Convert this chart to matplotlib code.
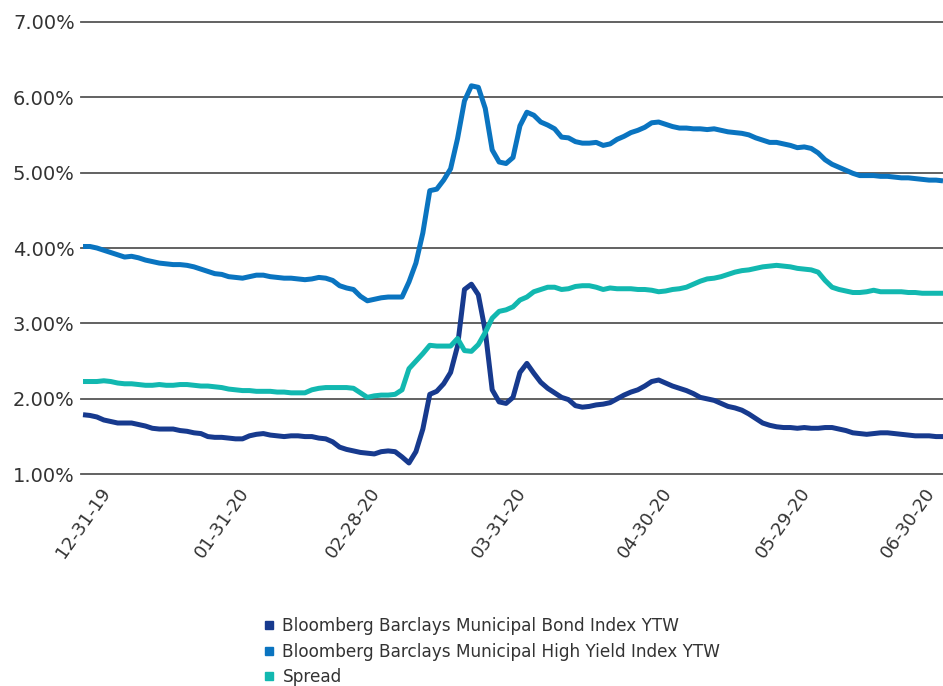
import matplotlib
matplotlib.use("Agg")
import matplotlib.pyplot as plt
from matplotlib.lines import Line2D
import numpy as np

# daily yield-to-worst readings (%), one value per trading day
muni_ytw = [
    1.79, 1.78, 1.76, 1.72, 1.70, 1.68, 1.68, 1.68, 1.66, 1.64,
    1.61, 1.60, 1.60, 1.60, 1.58, 1.57, 1.55, 1.54, 1.50, 1.49,
    1.49, 1.48, 1.47, 1.47, 1.51, 1.53, 1.54, 1.52, 1.51, 1.50,
    1.51, 1.51, 1.50, 1.50, 1.48, 1.47, 1.43, 1.36, 1.33, 1.31,
    1.29, 1.28, 1.27, 1.30, 1.31, 1.30, 1.23, 1.15, 1.30, 1.60,
    2.06, 2.10, 2.20, 2.35, 2.70, 3.45, 3.52, 3.38, 2.90, 2.12,
    1.96, 1.94, 2.02, 2.35, 2.47, 2.34, 2.22, 2.14, 2.08, 2.02,
    1.99, 1.91, 1.89, 1.90, 1.92, 1.93, 1.95, 2.00, 2.05, 2.09,
    2.12, 2.17, 2.23, 2.25, 2.21, 2.17, 2.14, 2.11, 2.07, 2.02,
    2.00, 1.98, 1.94, 1.90, 1.88, 1.85, 1.80, 1.74, 1.68, 1.65,
    1.63, 1.62, 1.62, 1.61, 1.62, 1.61, 1.61, 1.62, 1.62, 1.60,
    1.58, 1.55, 1.54, 1.53, 1.54, 1.55, 1.55, 1.54, 1.53, 1.52,
    1.51, 1.51, 1.51, 1.50, 1.50,
]
hy_ytw = [
    4.02, 4.02, 4.00, 3.97, 3.94, 3.91, 3.88, 3.89, 3.87, 3.84,
    3.82, 3.80, 3.79, 3.78, 3.78, 3.77, 3.75, 3.72, 3.69, 3.66,
    3.65, 3.62, 3.61, 3.60, 3.62, 3.64, 3.64, 3.62, 3.61, 3.60,
    3.60, 3.59, 3.58, 3.59, 3.61, 3.60, 3.57, 3.50, 3.47, 3.45,
    3.36, 3.30, 3.32, 3.34, 3.35, 3.35, 3.35, 3.55, 3.80, 4.20,
    4.76, 4.78, 4.90, 5.05, 5.45, 5.95, 6.15, 6.13, 5.85, 5.30,
    5.14, 5.12, 5.20, 5.62, 5.80, 5.76, 5.67, 5.63, 5.58, 5.47,
    5.46, 5.41, 5.39, 5.39, 5.40, 5.36, 5.38, 5.44, 5.48, 5.53,
    5.56, 5.60, 5.66, 5.67, 5.64, 5.61, 5.59, 5.59, 5.58, 5.58,
    5.57, 5.58, 5.56, 5.54, 5.53, 5.52, 5.50, 5.46, 5.43, 5.40,
    5.40, 5.38, 5.36, 5.33, 5.34, 5.32, 5.26, 5.17, 5.11, 5.07,
    5.03, 4.99, 4.96, 4.96, 4.96, 4.95, 4.95, 4.94, 4.93, 4.93,
    4.92, 4.91, 4.90, 4.90, 4.89,
]
spread = [
    2.23, 2.23, 2.23, 2.24, 2.23, 2.21, 2.20, 2.20, 2.19, 2.18,
    2.18, 2.19, 2.18, 2.18, 2.19, 2.19, 2.18, 2.17, 2.17, 2.16,
    2.15, 2.13, 2.12, 2.11, 2.11, 2.10, 2.10, 2.10, 2.09, 2.09,
    2.08, 2.08, 2.08, 2.12, 2.14, 2.15, 2.15, 2.15, 2.15, 2.14,
    2.08, 2.02, 2.04, 2.05, 2.05, 2.06, 2.12, 2.40, 2.50, 2.60,
    2.71, 2.70, 2.70, 2.70, 2.80, 2.64, 2.63, 2.72, 2.88, 3.07,
    3.16, 3.18, 3.22, 3.31, 3.35, 3.42, 3.45, 3.48, 3.48, 3.45,
    3.46, 3.49, 3.50, 3.50, 3.48, 3.45, 3.47, 3.46, 3.46, 3.46,
    3.45, 3.45, 3.44, 3.42, 3.43, 3.45, 3.46, 3.48, 3.52, 3.56,
    3.59, 3.60, 3.62, 3.65, 3.68, 3.70, 3.71, 3.73, 3.75, 3.76,
    3.77, 3.76, 3.75, 3.73, 3.72, 3.71, 3.68, 3.57, 3.48, 3.45,
    3.43, 3.41, 3.41, 3.42, 3.44, 3.42, 3.42, 3.42, 3.42, 3.41,
    3.41, 3.40, 3.40, 3.40, 3.40,
]

tick_days = [0, 20, 39, 60, 81, 101, 119]
tick_labels = ["12-31-19", "01-31-20", "02-28-20", "03-31-20",
               "04-30-20", "05-29-20", "06-30-20"]
y_levels = [1, 2, 3, 4, 5, 6, 7]

series_names = [
    "Bloomberg Barclays Municipal Bond Index YTW",
    "Bloomberg Barclays Municipal High Yield Index YTW",
    "Spread",
]
colors = ["#173a8e", "#0a74c0", "#12b8b0"]
text_color = "#333333"

W, H = 943, 686
fig = plt.figure(figsize=(W / 100, H / 100), dpi=100)
ax = fig.add_axes([81 / W, (H - 474.3) / H, (W - 81) / W, (474.3 - 21.7) / H])

days = np.arange(len(muni_ytw))
for vals, c in zip([muni_ytw, hy_ytw, spread], colors):
    ax.plot(days, vals, color=c, lw=3.6, solid_joinstyle="round",
            solid_capstyle="butt", zorder=3)

for lvl in y_levels:
    ax.axhline(lvl, color="#555555", lw=1.3, zorder=1, clip_on=False)

ax.set_xlim(-0.29, len(muni_ytw) - 1)
ax.set_ylim(1, 7)
for s in ax.spines.values():
    s.set_visible(False)

ax.set_yticks(y_levels)
ax.set_yticklabels([f"{v:.2f}%" for v in y_levels])
ax.tick_params(axis="y", length=0, pad=4.5, labelsize=14, labelcolor=text_color)

ax.set_xticks(tick_days)
ax.set_xticklabels(tick_labels, rotation=55, ha="center", va="top")
ax.tick_params(axis="x", length=0, pad=7, labelsize=13, labelcolor=text_color)

handles = [Line2D([], [], marker="s", ls="none", markersize=6,
                  markerfacecolor=c, markeredgecolor=c) for c in colors]
fig.legend(handles, series_names, loc="upper left",
           bbox_to_anchor=(263 / W, 1 - 617 / H), frameon=False,
           fontsize=12.2, labelcolor=text_color, handlelength=0.7,
           handletextpad=0.45, labelspacing=0.45, borderpad=0, borderaxespad=0)

fig.savefig("out.png", dpi=100)
